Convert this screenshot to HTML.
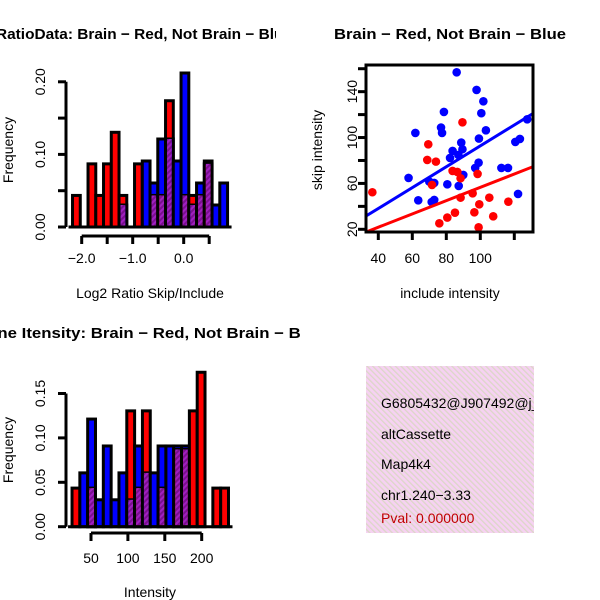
<!DOCTYPE html>
<html><head><meta charset="utf-8"><style>
html,body{margin:0;padding:0;background:#fff;}
svg{display:block;font-family:"Liberation Sans",sans-serif;}
</style></head><body>
<svg id="c" width="600" height="600" viewBox="0 0 600 600">
<defs>
<pattern id="purp" width="4" height="4" patternUnits="userSpaceOnUse" patternTransform="rotate(45)">
<rect width="4" height="4" fill="#a020c0"/><rect width="2" height="4" fill="#7a108f"/></pattern>
<pattern id="pink" width="4" height="4" patternUnits="userSpaceOnUse" patternTransform="rotate(-45)">
<rect width="4" height="4" fill="#f6d2f2"/><rect width="1.3" height="4" fill="#dcd6c8"/></pattern>
<clipPath id="sclip"><rect x="366" y="65" width="167" height="167"/></clipPath>
<clipPath id="leftclip"><rect x="0" y="0" width="300" height="600"/></clipPath>
<clipPath id="topclip"><rect x="0" y="0" width="276" height="100"/></clipPath>
<clipPath id="infoclip"><rect x="366" y="366" width="168" height="167"/></clipPath>
</defs>
<g id="g"></g>
</svg>
<script>
// ---- Top-left histogram: log2 ratio ----
const ratioBinStart = -2.18;
const ratioBinWidth = 0.152;
const ratioRed = [1,0,2,1,2,3,1,0,2,0,1,1,4,0,1,1,1,2,0,0];
const ratioBlue = [0,0,0,0,0,0,1,0,0,3,2,4,4,3,7,1,2,3,1,2];
const ratioRedN = 23, ratioBlueN = 33;
const ratioXTicks = [-2.0,-1.5,-1.0,-0.5,0.0,0.5];
const ratioXLabels = ["-2.0","","-1.0","","0.0",""];
const ratioYTicks = [0,0.05,0.10,0.15,0.20];
const ratioYLabels = ["0.00","","0.10","","0.20"];
// ---- Bottom-left histogram: intensity ----
const intBinStart = 24.3;
const intBinWidth = 10.6;
const intRed = [1,0,1,0,0,0,0,3,1,3,0,1,0,2,2,3,4,0,1,1];
const intBlue = [0,2,4,1,3,1,2,1,3,2,2,3,3,3,3,0,0,0,0,0];
const intRedN = 23, intBlueN = 33;
const intXTicks = [50,100,150,200];
const intYTicks = [0,0.05,0.10,0.15];
const intYLabels = ["0.00","0.05","0.10","0.15"];
// ---- Scatter ----
const blueX = [86.1,97.8,101.8,78.6,100.6,61.8,76.9,77.5,103.3,99.2,88.8,120.6,123.3,127.6,83.7,89.5,82.2,87.1,99,97,112.4,116.3,90,57.8,70,72.9,80.6,87.3,63.5,72.9,71.4,122.2];
const blueY = [156.9,141.5,131.6,122.3,121.2,104,108.7,104,106.3,99.1,95.6,96.2,98.8,115.9,88.3,89.8,82.2,84.8,78.1,73.5,73.5,73.5,67.4,64.8,61.6,60.4,59.2,57.8,45.3,45.6,43.8,50.8];
const redX = [36.5,89.5,69.4,68.8,73.9,83.7,86.5,88.4,98.4,71.6,88.4,95.5,105.3,116.5,99.4,85.1,80.6,75.9,96.5,107.6,99];
const redY = [52.3,113.3,94.1,80.5,79,70.9,70,64.5,68.3,58.7,47.6,51.4,47.6,44.1,41.8,34.5,30.2,25.2,34.8,31.3,21.7];
const blueFit = [1.75,0.910];
const redFit = [-1.4,0.580];
const scXTicks = [40,60,80,100,120];
const scXLabels = ["40","60","80","100",""];
const scYTicks = [20,40,60,80,100,120,140,160];
const scYLabels = ["20","","60","","100","","140",""];

const NS="http://www.w3.org/2000/svg";
const G=document.getElementById('g');
function mk(tag,attrs,parent){const e=document.createElementNS(NS,tag);for(const k in attrs)e.setAttribute(k,attrs[k]);(parent||G).appendChild(e);return e;}
function txt(s,x,y,opts,parent){const e=mk('text',Object.assign({x:x,y:y,'font-size':14,'text-anchor':'middle',fill:'#000'},opts||{}),parent);e.textContent=s;return e;}

function hist(name,start,width,red,blue,rN,bN,sx,sy,y0){
  const grp=mk('g',{});
  
  
  for(let i=0;i<red.length;i++){
    const a=start+i*width,b=a+width;
    const x1=sx(a),x2=sx(b);
    const r=red[i]/rN,bl=blue[i]/bN;
    const bars=[{v:r,c:'#ff0000',n:'red'},{v:bl,c:'#0000ff',n:'blue'}].filter(d=>d.v>0).sort((p,q)=>q.v-p.v);
    bars.forEach(d=>{
      const rc=mk('rect',{x:x1,y:sy(d.v),width:x2-x1,height:y0-sy(d.v),fill:d.c,stroke:'#000','stroke-width':3},grp);
      
      
    });
    const m=Math.min(r,bl);
    if(m>0){
      const p=mk('rect',{x:x1+1.5,y:sy(m),width:x2-x1-3,height:y0-sy(m)-1.5,fill:'url(#purp)'},grp);
      
      
    }
  }
}
function yaxis(name,x,ticks,labels,sy,labX){
  const a=mk('g',{});
  
  
  mk('line',{x1:x,x2:x,y1:sy(ticks[0]),y2:sy(ticks[ticks.length-1]),stroke:'#000','stroke-width':3},a);
  ticks.forEach((t,i)=>{mk('line',{x1:x-8,x2:x,y1:sy(t),y2:sy(t),stroke:'#000','stroke-width':3},a);
    if(labels[i])txt(labels[i],labX,sy(t),{transform:'rotate(-90 '+labX+' '+sy(t)+')'},a);});
}
function xaxis(name,y,ticks,labels,sx,labY){
  const a=mk('g',{});
  
  
  mk('line',{x1:sx(ticks[0]),x2:sx(ticks[ticks.length-1]),y1:y,y2:y,stroke:'#000','stroke-width':3},a);
  ticks.forEach((t,i)=>{mk('line',{x1:sx(t),x2:sx(t),y1:y,y2:y+8,stroke:'#000','stroke-width':3},a);
    if(labels[i])txt(labels[i],sx(t),labY,{},a);});
}
const leftClip=mk('g',{'clip-path':'url(#leftclip)'});


const topClip=mk('g',{'clip-path':'url(#topclip)'});



// Top-left
{
  const sx=v=>183.7+v*51, y0=227, sy=v=>y0-v*726;
  hist('ratio-hist',ratioBinStart,ratioBinWidth,ratioRed,ratioBlue,ratioRedN,ratioBlueN,sx,sy,y0);
  const base=mk('line',{x1:sx(ratioBinStart)-4,x2:sx(ratioBinStart+20*ratioBinWidth)+4,y1:y0,y2:y0,stroke:'#000','stroke-width':3});
  
  
  yaxis('ratio-y-axis',66,ratioYTicks,ratioYLabels,sy,45);
  xaxis('ratio-x-axis',236,ratioXTicks,ratioXLabels.map(s=>s.replace('-','\u2212')),sx,263);
  let t=txt('Frequency',13,150,{transform:'rotate(-90 13 150)'});
  t=txt('Log2 Ratio Skip/Include',150,298);
  t=txt('RatioData: Brain \u2212 Red, Not Brain \u2212 Blue',144,39,{'font-weight':'bold','font-size':15,textLength:296,lengthAdjust:'spacingAndGlyphs'},topClip);
}
// Bottom-left
{
  const sx=v=>91+(v-50)*0.738, y0=526.7, sy=v=>y0-v*888;
  hist('intensity-hist',intBinStart,intBinWidth,intRed,intBlue,intRedN,intBlueN,sx,sy,y0);
  const base=mk('line',{x1:sx(intBinStart)-4,x2:sx(intBinStart+20*intBinWidth)+4,y1:y0,y2:y0,stroke:'#000','stroke-width':3});
  
  
  yaxis('intensity-y-axis',66,intYTicks,intYLabels,sy,45);
  xaxis('intensity-x-axis',533,intXTicks,intXTicks.map(String),sx,563);
  let t=txt('Frequency',13,450,{transform:'rotate(-90 13 450)'});
  t=txt('Intensity',150,597);
  t=txt('Gene Itensity: Brain \u2212 Red, Not Brain \u2212 Blue',150,338,{'font-weight':'bold','font-size':15,textLength:350,lengthAdjust:'spacingAndGlyphs'},leftClip);
}
// Scatter
{
  const sx=v=>378.3+(v-40)*1.7, sy=v=>229.3-(v-20)*1.147;
  const pts=mk('g',{'clip-path':'url(#sclip)'});
  
  
  blueX.forEach((x,i)=>{const c=mk('circle',{cx:sx(x),cy:sy(blueY[i]),r:4.3,fill:'#0000ff'},pts);
    });
  redX.forEach((x,i)=>{const c=mk('circle',{cx:sx(x),cy:sy(redY[i]),r:4.3,fill:'#ff0000'},pts);
    });
  const xa=30,xb=135;
  let l=mk('line',{x1:sx(xa),y1:sy(blueFit[0]+blueFit[1]*xa),x2:sx(xb),y2:sy(blueFit[0]+blueFit[1]*xb),stroke:'#0000ff','stroke-width':3},pts);
  
  l=mk('line',{x1:sx(xa),y1:sy(redFit[0]+redFit[1]*xa),x2:sx(xb),y2:sy(redFit[0]+redFit[1]*xb),stroke:'#ff0000','stroke-width':3},pts);
  
  const box=mk('rect',{x:366,y:65,width:167,height:167,fill:'none',stroke:'#000','stroke-width':3});
  
  yaxis('scatter-y-axis',366,scYTicks,scYLabels,sy,357);
  xaxis('scatter-x-axis',232,scXTicks,scXLabels,sx,263);
  let t=txt('skip intensity',322,150,{transform:'rotate(-90 322 150)'});
  t=txt('include intensity',450,298);
  t=txt('Brain \u2212 Red, Not Brain \u2212 Blue',450,39,{'font-weight':'bold','font-size':15,textLength:232,lengthAdjust:'spacingAndGlyphs'});
}
// Info panel
{
  const p=mk('g',{'clip-path':'url(#infoclip)'});
  
  
  mk('rect',{x:366,y:366,width:168,height:167,fill:'url(#pink)'},p);
  const lines=[['G6805432@J907492@j_','#000',408],['altCassette','#000',439],['Map4k4','#000',469],['chr1.240\u22123.33','#000',500],['Pval: 0.000000','#c00000',523]];
  lines.forEach(d=>{const t=txt(d[0],381,d[2],{'text-anchor':'start',fill:d[1]},p);
    });
}
</script>
</body></html>
